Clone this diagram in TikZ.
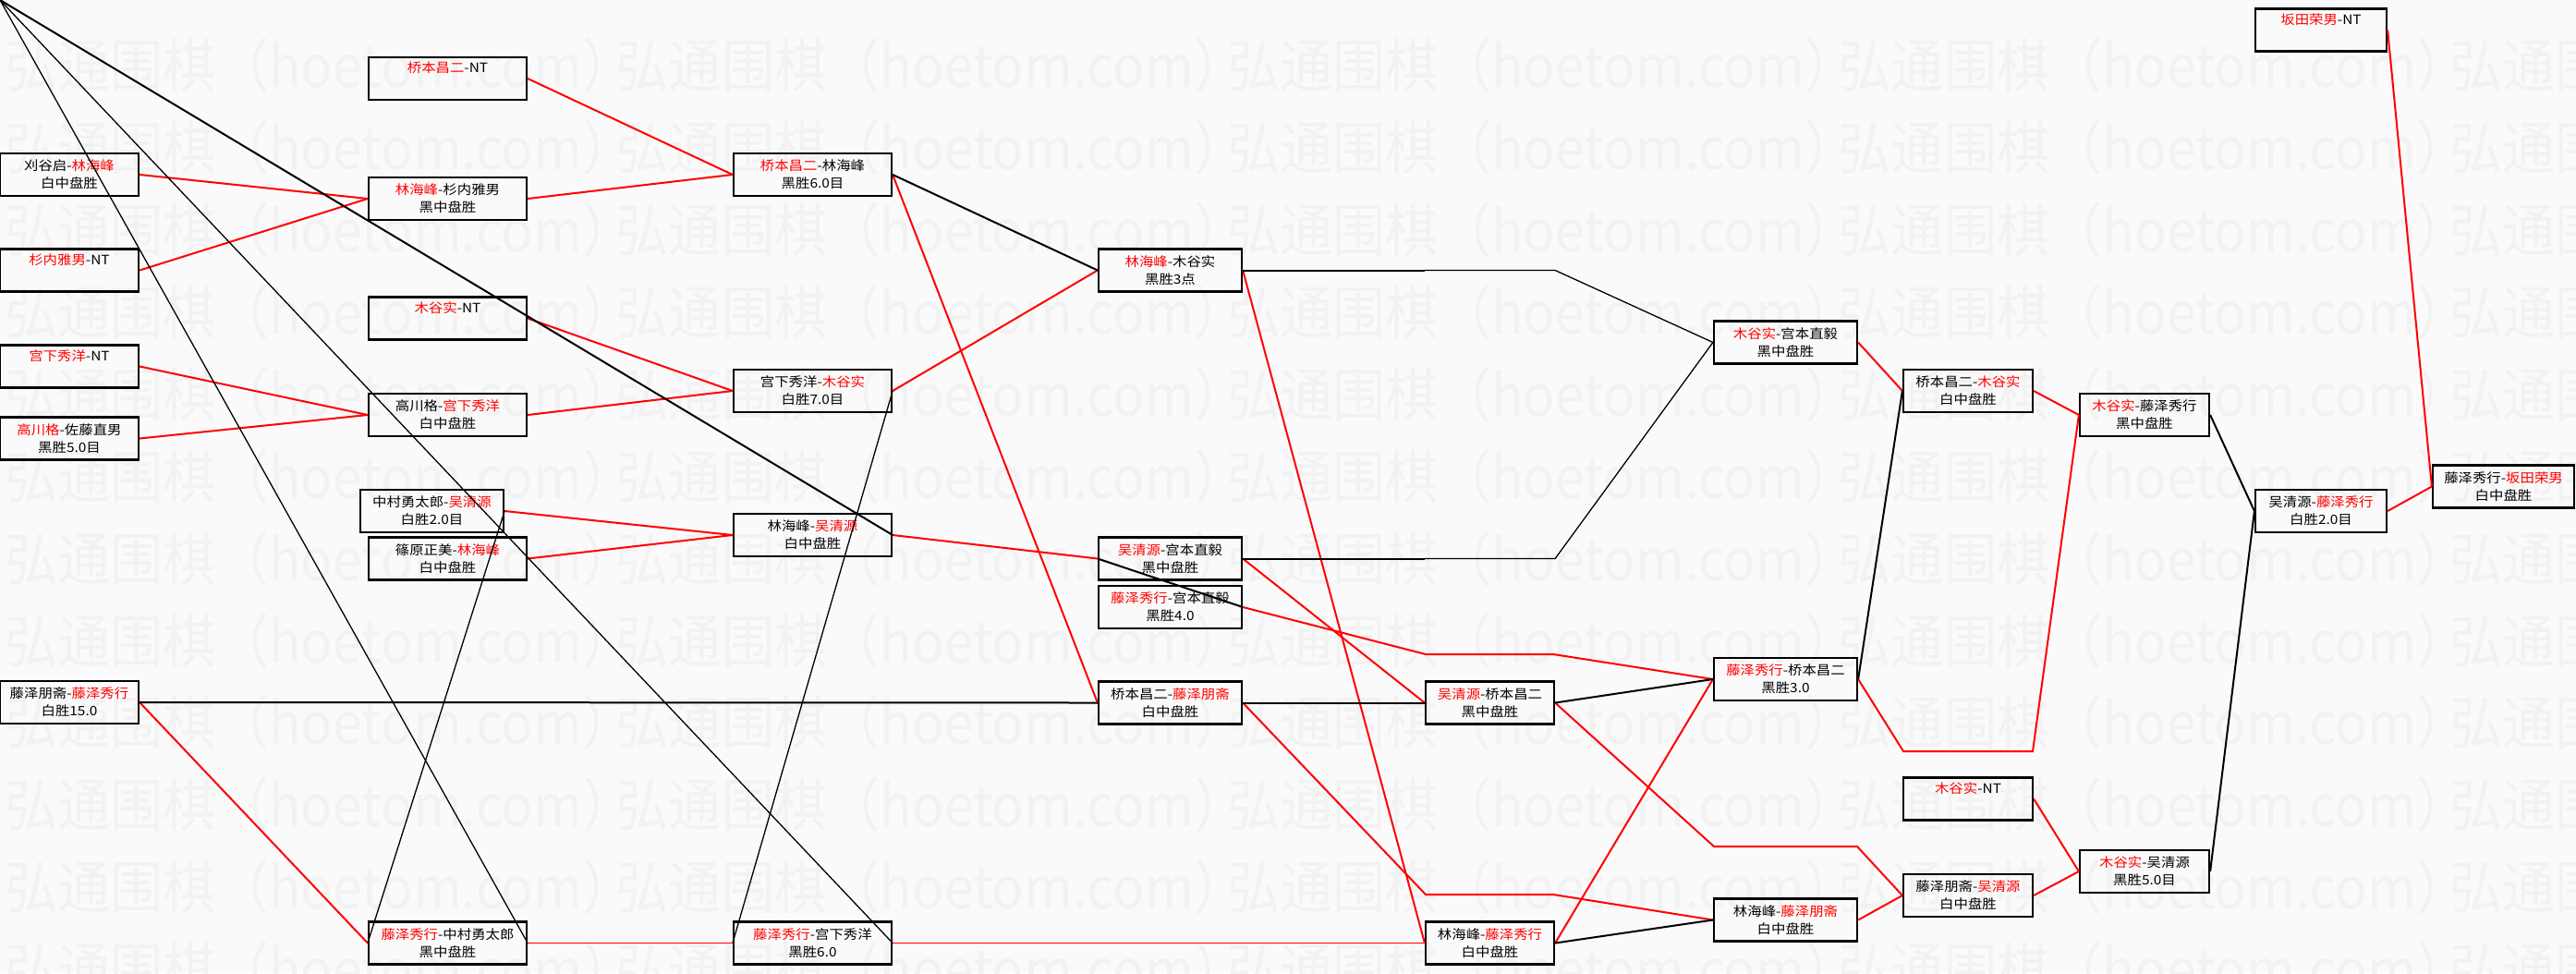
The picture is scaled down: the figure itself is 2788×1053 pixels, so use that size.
\documentclass[tikz,border=0pt]{standalone}
\usepackage{fontspec}
\newfontfamily\cjkfont[FakeStretch=1.1]{Noto Sans CJK SC}
\newcommand\rd[1]{\textcolor{red}{#1}}
\tikzset{
    match/.style={
           draw=black, line width=2.2pt,
           minimum width=#1,
           minimum height=46pt,
           inner sep=0pt,
           align=center,
           font=\cjkfont\fontsize{14pt}{19pt}\selectfont},
    win/.style={
           draw=red, line width=2pt},
    lose/.style={
           draw=black, line width=2pt},
    faint/.style={
           line width=1.3pt},
    wmark/.style={
           anchor=west, inner sep=0pt, text=black!5,
           font=\cjkfont\fontsize{52pt}{52pt}\selectfont}
}

\begin{document}
\begin{tikzpicture}[x=1pt,y=-1pt]
          \def\xA{75}
          \def\xB{484.5}
          \def\xC{879.5}
          \def\xD{1266.5}
          \def\xE{1612.5}
          \def\xF{1932.5}
          \def\xG{2130}
          \def\xH{2321}
          \def\xI{2512}
          \def\xJ{2709.5}
          \useasboundingbox (0,0) rectangle (2788,1053);
          \fill[black!2] (0,0) rectangle (2788,1053);
          % watermark
          \foreach \wr in {0,...,11}
            \foreach \wc in {0,...,4}
              \node[wmark] (wm\wr\wc) at ({5+661.5*\wc},{71+88.9*\wr}) {\scalebox{1}[1.2]{弘通围棋（hoetom.com）}};
          % first round
          \node[match=150pt] (lgl) at (\xA,189) {刈谷启-\rd{林海峰}\\白中盘胜};
          \node[match=150pt] (snnt) at (\xA,292.5) {\rd{杉内雅男}-NT\\\strut};
          \node[match=150pt] (gxnt) at (\xA,396.5) {\rd{宫下秀洋}-NT\\\strut};
          \node[match=150pt] (gcz) at (\xA,474.5) {\rd{高川格}-佐藤直男\\黑胜5.0目};
          \node[match=150pt] (ftfx) at (\xA,760) {藤泽朋斋-\rd{藤泽秀行}\\白胜15.0};
          % second round
          \node[match=171pt] (qbnt) at (\xB,85) {\rd{桥本昌二}-NT\\\strut};
          \node[match=171pt] (lsn) at (\xB,215) {\rd{林海峰}-杉内雅男\\黑中盘胜};
          \node[match=171pt] (mgnt) at (\xB,344.5) {\rd{木谷实}-NT\\\strut};
          \node[match=171pt] (gcgx) at (\xB,449) {高川格-\rd{宫下秀洋}\\白中盘胜};
          \node[match=155pt] (zcwq) at (467.5,553) {中村勇太郎-\rd{吴清源}\\白胜2.0目};
          \node[match=171pt] (xyl) at (\xB,604.5) {篠原正美-\rd{林海峰}\\白中盘胜};
          \node[match=171pt] (fxzc) at (\xB,1020.5) {\rd{藤泽秀行}-中村勇太郎\\黑中盘胜};
          % third round
          \node[match=171pt] (qbl) at (\xC,189) {\rd{桥本昌二}-林海峰\\黑胜6.0目};
          \node[match=171pt] (gxmg) at (\xC,423) {宫下秀洋-\rd{木谷实}\\白胜7.0目};
          \node[match=171pt] (lwq) at (\xC,579) {林海峰-\rd{吴清源}\\白中盘胜};
          \node[match=171pt] (fxgx) at (\xC,1020.5) {\rd{藤泽秀行}-宫下秀洋\\黑胜6.0};
          % fourth round
          \node[match=155pt] (lmg) at (\xD,292.5) {\rd{林海峰}-木谷实\\黑胜3点};
          \node[match=155pt] (wqgb) at (\xD,604.5) {\rd{吴清源}-宫本直毅\\黑中盘胜};
          \node[match=155pt] (fxgb) at (\xD,657) {\rd{藤泽秀行}-宫本直毅\\黑胜4.0};
          \node[match=155pt] (qbft) at (\xD,760.5) {桥本昌二-\rd{藤泽朋斋}\\白中盘胜};
          % fifth round
          \node[match=139pt] (wqqb) at (\xE,760.5) {\rd{吴清源}-桥本昌二\\黑中盘胜};
          \node[match=139pt] (lfx) at (\xE,1020.5) {林海峰-\rd{藤泽秀行}\\白中盘胜};
          % sixth round
          \node[match=155pt] (mggb) at (\xF,370.5) {\rd{木谷实}-宫本直毅\\黑中盘胜};
          \node[match=155pt] (fxqb) at (\xF,735) {\rd{藤泽秀行}-桥本昌二\\黑胜3.0};
          \node[match=155pt] (lft) at (\xF,995.5) {林海峰-\rd{藤泽朋斋}\\白中盘胜};
          % seventh round
          \node[match=140pt] (qbmg) at (\xG,423) {桥本昌二-\rd{木谷实}\\白中盘胜};
          \node[match=140pt] (mgnt2) at (\xG,864.5) {\rd{木谷实}-NT\\\strut};
          \node[match=140pt] (ftwq) at (\xG,969) {藤泽朋斋-\rd{吴清源}\\白中盘胜};
          % eighth round
          \node[match=140pt] (mgfx) at (\xH,449) {\rd{木谷实}-藤泽秀行\\黑中盘胜};
          \node[match=140pt] (mgwq) at (\xH,943) {\rd{木谷实}-吴清源\\黑胜5.0目};
          % final rounds
          \node[match=142pt] (btnt) at (\xI,32.5) {\rd{坂田荣男}-NT\\\strut};
          \node[match=142pt] (wqfx) at (\xI,553) {吴清源-\rd{藤泽秀行}\\白胜2.0目};
          \node[match=153pt] (fxbt) at (\xJ,526.5) {藤泽秀行-\rd{坂田荣男}\\白中盘胜};
          \coordinate (corner) at (0,0);
          % winners
          \draw[win] (qbnt.east) -- (qbl.west);
          \draw[win] (lgl.east) -- (lsn.west);
          \draw[win] (snnt.east) -- (lsn.west);
          \draw[win] (lsn.east) -- (qbl.west);
          \draw[win] (gxnt.east) -- (gcgx.west);
          \draw[win] (gcz.east) -- (gcgx.west);
          \draw[win] (gcgx.east) -- (gxmg.west);
          \draw[win] (mgnt.east) -- (gxmg.west);
          \draw[win] (zcwq.east) -- (lwq.west);
          \draw[win] (xyl.east) -- (lwq.west);
          \draw[win] (ftfx.east) -- (fxzc.west);
          \draw[win,faint] (fxzc.east) -- (fxgx.west);
          \draw[win,faint] (fxgx.east) -- (lfx.west);
          \draw[win] (qbl.east) -- (qbft.west);
          \draw[win] (gxmg.east) -- (lmg.west);
          \draw[win] (lwq.east) -- (wqgb.west);
          \draw[win] (lmg.east) -- (lfx.west);
          \draw[win] (wqgb.east) -- (wqqb.west);
          \draw[win] (fxgb.east) -- (1543,708) -- (1681,708) -- (fxqb.west);
          \draw[win] (qbft.east) -- (1543,968) -- (1681,968) -- (lft.west);
          \draw[win] (lfx.east) -- (fxqb.west);
          \draw[win] (wqqb.east) -- (1855,916) -- (2010,916) -- (ftwq.west);
          \draw[win] (lft.east) -- (ftwq.west);
          \draw[win] (fxqb.east) -- (2060,813) -- (2200,813) -- (mgfx.west);
          \draw[win] (mggb.east) -- (qbmg.west);
          \draw[win] (qbmg.east) -- (mgfx.west);
          \draw[win] (mgnt2.east) -- (mgwq.west);
          \draw[win] (ftwq.east) -- (mgwq.west);
          \draw[win] (wqfx.east) -- (fxbt.west);
          \draw[win] (btnt.east) -- (fxbt.west);
          % losers
          \draw[lose] (ftfx.east) -- (qbft.west);
          \draw[lose] (qbl.east) -- (lmg.west);
          \draw[lose,faint] (zcwq.east) -- (fxzc.west);
          \draw[lose,faint] (gxmg.east) -- (fxgx.west);
          \draw[lose,faint] (corner) -- (fxzc.east);
          \draw[lose,faint] (corner) -- (fxgx.east);
          \draw[lose] (corner) -- (lwq.east);
          \draw[lose] (fxgb.east) -- (wqgb.west);
          \draw[lose] (lmg.east) -- (lmg.east -| wqqb.west);
          \draw[lose,faint] (lmg.east -| wqqb.west) -- (lmg.east -| wqqb.east) -- (mggb.west);
          \draw[lose] (wqgb.east) -- (wqgb.east -| wqqb.west);
          \draw[lose,faint] (wqgb.east -| wqqb.west) -- (wqgb.east -| wqqb.east) -- (mggb.west);
          \draw[lose] (qbft.east) -- (wqqb.west);
          \draw[lose] (wqqb.east) -- (fxqb.west);
          \draw[lose] (lfx.east) -- (lft.west);
          \draw[lose] (fxqb.east) -- (qbmg.west);
          \draw[lose] (mgfx.east) -- (wqfx.west);
          \draw[lose] (mgwq.east) -- (wqfx.west);
\end{tikzpicture}
\end{document}
